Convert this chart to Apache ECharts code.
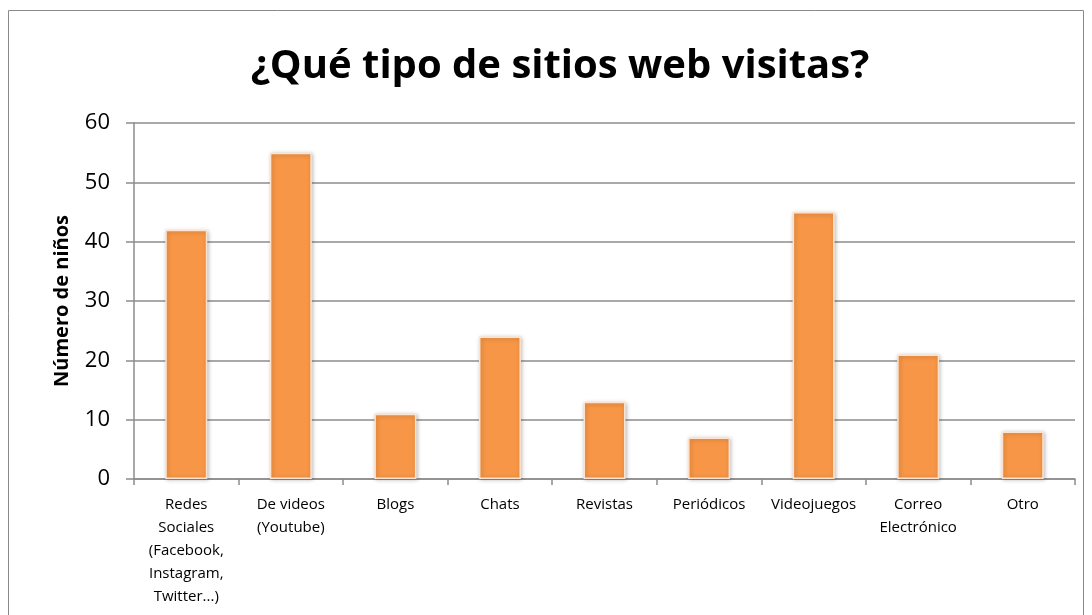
<!DOCTYPE html>
<html>
<head>
<meta charset="utf-8">
<script src="https://cdn.jsdelivr.net/npm/echarts@6/dist/echarts.min.js"></script>
<style>
  html, body { margin: 0; padding: 0; background: #fff; }
  #chart { width: 1092px; height: 615px; }
</style>
</head>
<body>
<div id="chart"></div>
<script>
// categorias del eje x
var categorias = [
    'Redes\nSociales\n(Facebook,\nInstagram,\nTwitter...)',
    'De videos\n(Youtube)',
    'Blogs',
    'Chats',
    'Revistas',
    'Periódicos',
    'Videojuegos',
    'Correo\nElectrónico',
    'Otro'
];
// número de niños por tipo de sitio
var valores = [42, 55, 11, 24, 13, 7, 45, 21, 8];

var fuente = '"Open Sans", "DejaVu Sans", sans-serif';

var myChart = echarts.init(document.getElementById('chart'));
myChart.setOption({
    animation: false,
    title: {
        text: '¿Qué tipo de sitios web visitas?',
        left: 555,
        textAlign: 'center',
        top: 42,
        textStyle: { fontFamily: fuente, fontSize: 40, fontWeight: 'bold', color: '#000' }
    },
    graphic: [{
        type: 'rect',
        shape: { x: 8.5, y: 10.5, width: 1075, height: 640 },
        style: { fill: null, stroke: '#8a8a8a', lineWidth: 1 },
        silent: true
    }],
    grid: { left: 134, right: 17, top: 123, bottom: 136 },
    xAxis: {
        type: 'category',
        data: categorias,
        axisLine: { lineStyle: { color: '#8c8c8c', width: 1.5 } },
        axisTick: { show: true, length: 6, alignWithLabel: false, lineStyle: { color: '#8c8c8c', width: 1.5 } },
        axisLabel: { interval: 0, margin: 14, fontFamily: fuente, fontSize: 15, lineHeight: 23, color: '#000' }
    },
    yAxis: {
        type: 'value',
        min: 0,
        max: 60,
        interval: 10,
        name: 'Número de niños',
        nameLocation: 'middle',
        nameGap: 62,
        nameTextStyle: { fontFamily: fuente, fontSize: 20, fontWeight: 'bold', color: '#000' },
        axisLine: { show: true, lineStyle: { color: '#8c8c8c', width: 1.5 } },
        axisTick: { show: true, length: 8, lineStyle: { color: '#8c8c8c', width: 1.5 } },
        splitLine: { lineStyle: { color: '#8c8c8c', width: 1.5 } },
        axisLabel: { margin: 24, fontFamily: fuente, fontSize: 22, color: '#000' }
    },
    series: [{
        type: 'bar',
        data: valores,
        barWidth: 42,
        itemStyle: {
            color: '#F79646',
            borderColor: '#fde3cf',
            borderWidth: 1.5,
            shadowBlur: 4,
            shadowColor: 'rgba(0,0,0,0.25)',
            shadowOffsetX: 1,
            shadowOffsetY: 1
        }
    }]
});
</script>
</body>
</html>
